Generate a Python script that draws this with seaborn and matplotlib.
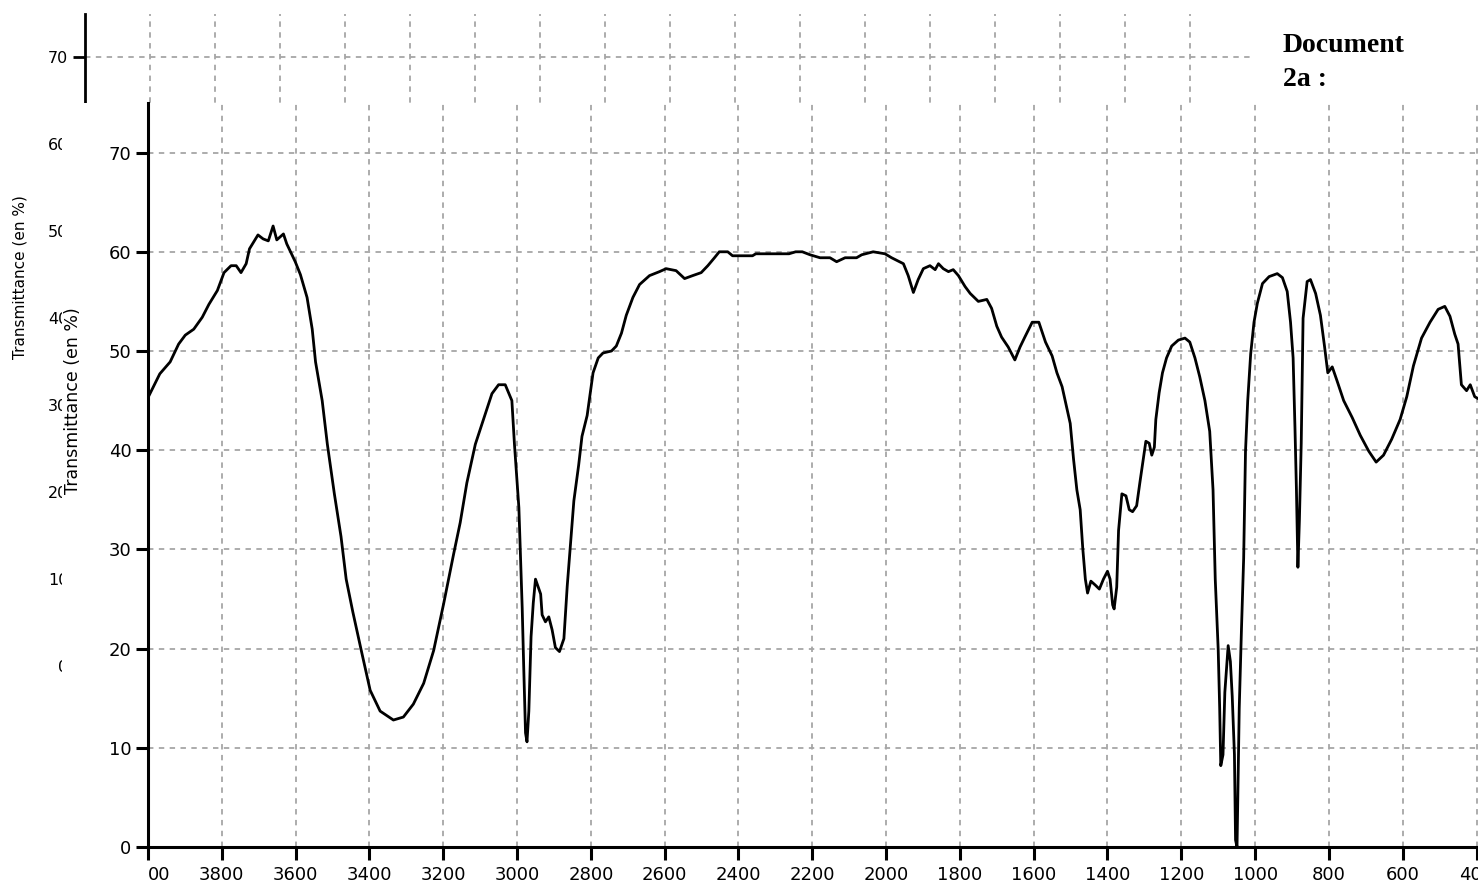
import matplotlib
matplotlib.use("Agg")
import matplotlib.pyplot as plt
from matplotlib.patches import Rectangle
import seaborn as sns

# IR spectrum (wavenumber in cm-1, transmittance in %)
wavenumber = [
    4000, 3968, 3940, 3917, 3899, 3876, 3853, 3835, 3812, 3794, 3775, 3761, 3748, 3734,
    3725, 3702, 3688, 3674, 3661, 3651, 3633, 3624, 3601, 3587, 3569, 3555, 3546, 3528,
    3514, 3495, 3477, 3463, 3445, 3422, 3398, 3371, 3335, 3308, 3281, 3253, 3226, 3199,
    3172, 3154, 3136, 3113, 3090, 3068, 3050, 3032, 3014, 3007, 2995, 2986, 2982, 2977,
    2973, 2968, 2962, 2956, 2950, 2936, 2932, 2923, 2914, 2905, 2896, 2885, 2873, 2864,
    2855, 2846, 2833, 2824, 2810, 2794, 2780, 2767, 2744, 2731, 2717, 2704, 2686, 2668,
    2641, 2614, 2596, 2569, 2546, 2524, 2501, 2483, 2465, 2452, 2429, 2416, 2362, 2353,
    2263, 2245, 2227, 2206, 2179, 2152, 2134, 2111, 2080, 2066, 2035, 2003, 1985, 1953,
    1940, 1926, 1913, 1899, 1881, 1867, 1858, 1845, 1831, 1818, 1804, 1786, 1772, 1750,
    1727, 1714, 1700, 1687, 1669, 1651, 1637, 1624, 1604, 1586, 1568, 1550, 1537, 1523,
    1510, 1501, 1492, 1483, 1474, 1467, 1460, 1454, 1445, 1433, 1422, 1411, 1400, 1393,
    1386, 1382, 1375, 1370, 1361, 1350, 1341, 1332, 1321, 1312, 1303, 1296, 1287, 1280,
    1273, 1269, 1260, 1251, 1240, 1226, 1208, 1190, 1177, 1163, 1150, 1136, 1123, 1114,
    1108, 1100, 1096, 1093, 1087, 1082, 1076, 1073, 1067, 1062, 1056, 1053, 1049, 1043,
    1037, 1031, 1026, 1020, 1012, 1003, 994, 980, 962, 940, 926, 913, 904, 897,
    892, 888, 884, 880, 875, 870, 859, 850, 836, 823, 812, 803, 791, 778,
    760, 737, 715, 692, 672, 652, 630, 607, 589, 571, 549, 526, 504, 486,
    472, 459, 450, 441, 427, 417, 405, 396,
]
transmittance = [
    45.3, 47.7, 48.9, 50.7, 51.6, 52.2, 53.4, 54.7, 56.1, 57.9, 58.6, 58.6, 57.9, 58.8,
    60.3, 61.7, 61.3, 61.1, 62.6, 61.2, 61.8, 60.8, 59.0, 57.7, 55.4, 52.2, 48.9, 45.0,
    40.6, 35.6, 31.3, 27.0, 23.7, 19.8, 15.8, 13.7, 12.8, 13.1, 14.4, 16.5, 19.8, 24.5,
    29.5, 32.7, 36.7, 40.6, 43.2, 45.7, 46.6, 46.6, 45.0, 40.6, 34.2, 24.1, 18.3, 11.5,
    10.6, 13.7, 21.2, 24.6, 27.0, 25.5, 23.4, 22.7, 23.2, 21.9, 20.1, 19.7, 21.0, 26.3,
    30.6, 34.9, 38.5, 41.4, 43.5, 47.8, 49.3, 49.8, 50.0, 50.5, 51.8, 53.6, 55.4, 56.7,
    57.6, 58.0, 58.3, 58.1, 57.3, 57.6, 57.9, 58.6, 59.4, 60.0, 60.0, 59.6, 59.6, 59.8,
    59.8, 60.0, 60.0, 59.7, 59.4, 59.4, 59.0, 59.4, 59.4, 59.7, 60.0, 59.8, 59.4, 58.8,
    57.6, 55.9, 57.2, 58.3, 58.6, 58.2, 58.8, 58.3, 58.0, 58.2, 57.6, 56.5, 55.8, 55.0,
    55.2, 54.3, 52.5, 51.4, 50.4, 49.1, 50.4, 51.4, 52.9, 52.9, 50.9, 49.5, 47.8, 46.4,
    44.2, 42.7, 39.1, 36.0, 34.0, 30.1, 27.0, 25.6, 26.8, 26.4, 26.0, 27.0, 27.8, 27.0,
    24.4, 24.0, 26.2, 31.9, 35.6, 35.4, 34.0, 33.8, 34.4, 36.8, 39.1, 40.9, 40.7, 39.5,
    40.3, 43.1, 45.8, 47.8, 49.3, 50.5, 51.1, 51.3, 50.9, 49.3, 47.4, 45.0, 41.9, 36.0,
    27.0, 19.9, 14.0, 8.2, 9.3, 15.6, 18.7, 20.3, 18.7, 15.2, 9.3, 0.7, 0.0, 14.0,
    21.9, 29.1, 39.9, 45.0, 49.7, 52.9, 54.8, 56.8, 57.5, 57.8, 57.4, 56.0, 52.9, 49.3,
    42.3, 36.0, 28.2, 32.9, 40.7, 53.3, 57.0, 57.2, 55.8, 53.6, 50.5, 47.8, 48.4, 47.0,
    45.0, 43.3, 41.5, 39.9, 38.8, 39.5, 41.1, 43.1, 45.4, 48.5, 51.3, 52.9, 54.2, 54.5,
    53.5, 51.7, 50.7, 46.6, 46.0, 46.6, 45.4, 45.2,
]

x_ticks = list(range(4000, 399, -200))
x_labels = ["00"] + [str(v) for v in x_ticks[1:]]
y_ticks = list(range(0, 71, 10))

sns.set_style("white")
plt.rcParams["font.family"] = ["DejaVu Sans"]
plt.rcParams["text.color"] = "black"
plt.rcParams["axes.labelcolor"] = "black"

W, H = 1478, 883
fig = plt.figure(figsize=(W / 100, H / 100), dpi=100)


def px_box(left, top, right, bottom):
    return [left / W, 1 - bottom / H, (right - left) / W, (bottom - top) / H]


def style_axes(ax, tick_size, lw, tick_len):
    ax.set_ylim(0, 75)
    ax.set_yticks(y_ticks)
    ax.grid(True, color="#a6a6a6", linestyle=(0, (3, 3)), linewidth=1.3)
    sns.despine(ax=ax, top=True, right=True)
    for s in ("left", "bottom"):
        ax.spines[s].set_color("black")
        ax.spines[s].set_linewidth(lw)
    ax.tick_params(axis="both", which="major", direction="out", length=tick_len,
                   width=lw, colors="black", labelsize=tick_size, pad=3,
                   bottom=True, left=True)
    ax.set_xlabel("")


# partly hidden copy of the same chart behind
ax_bg = fig.add_axes(px_box(85, 14, 1255, 666), zorder=0)
sns.lineplot(x=wavenumber, y=transmittance, ax=ax_bg, color="black",
             linewidth=1.6, sort=False, estimator=None)
ax_bg.set_xlim(4000, 400)
ax_bg.set_xticks(x_ticks[:-1])
style_axes(ax_bg, 11.5, 2.0, 9)
ax_bg.set_ylabel("Transmittance (en %)", fontsize=11)
ax_bg.yaxis.set_label_coords(-0.049, 0.597)

# white sheet of the front chart
fig.add_artist(Rectangle((62 / W, 0), (W - 62) / W, (H - 103) / H,
                         transform=fig.transFigure, facecolor="white",
                         edgecolor="none", zorder=1))

# front chart
ax = fig.add_axes(px_box(148, 103, 1478, 847), zorder=2)
ax.patch.set_alpha(0)
sns.lineplot(x=wavenumber, y=transmittance, ax=ax, color="black",
             linewidth=2.0, sort=False, estimator=None)
ax.set_xlim(4000, 396)
ax.set_xticks(x_ticks)
ax.set_xticklabels(x_labels)
ax.get_xticklabels()[0].set_horizontalalignment("left")
style_axes(ax, 13, 2.2, 9)
ax.tick_params(axis="x", pad=5)
ax.set_ylabel("Transmittance (en %)", fontsize=12.5)
ax.yaxis.set_label_coords(-0.0495, 0.6)

fig.text(1283 / W, 1 - 52 / H, "Document", fontsize=20, fontweight="bold",
         family="Liberation Serif", va="baseline", ha="left", color="black")
fig.text(1283 / W, 1 - 86 / H, "2a :", fontsize=20, fontweight="bold",
         family="Liberation Serif", va="baseline", ha="left", color="black")

fig.savefig("out.png", dpi=100)
